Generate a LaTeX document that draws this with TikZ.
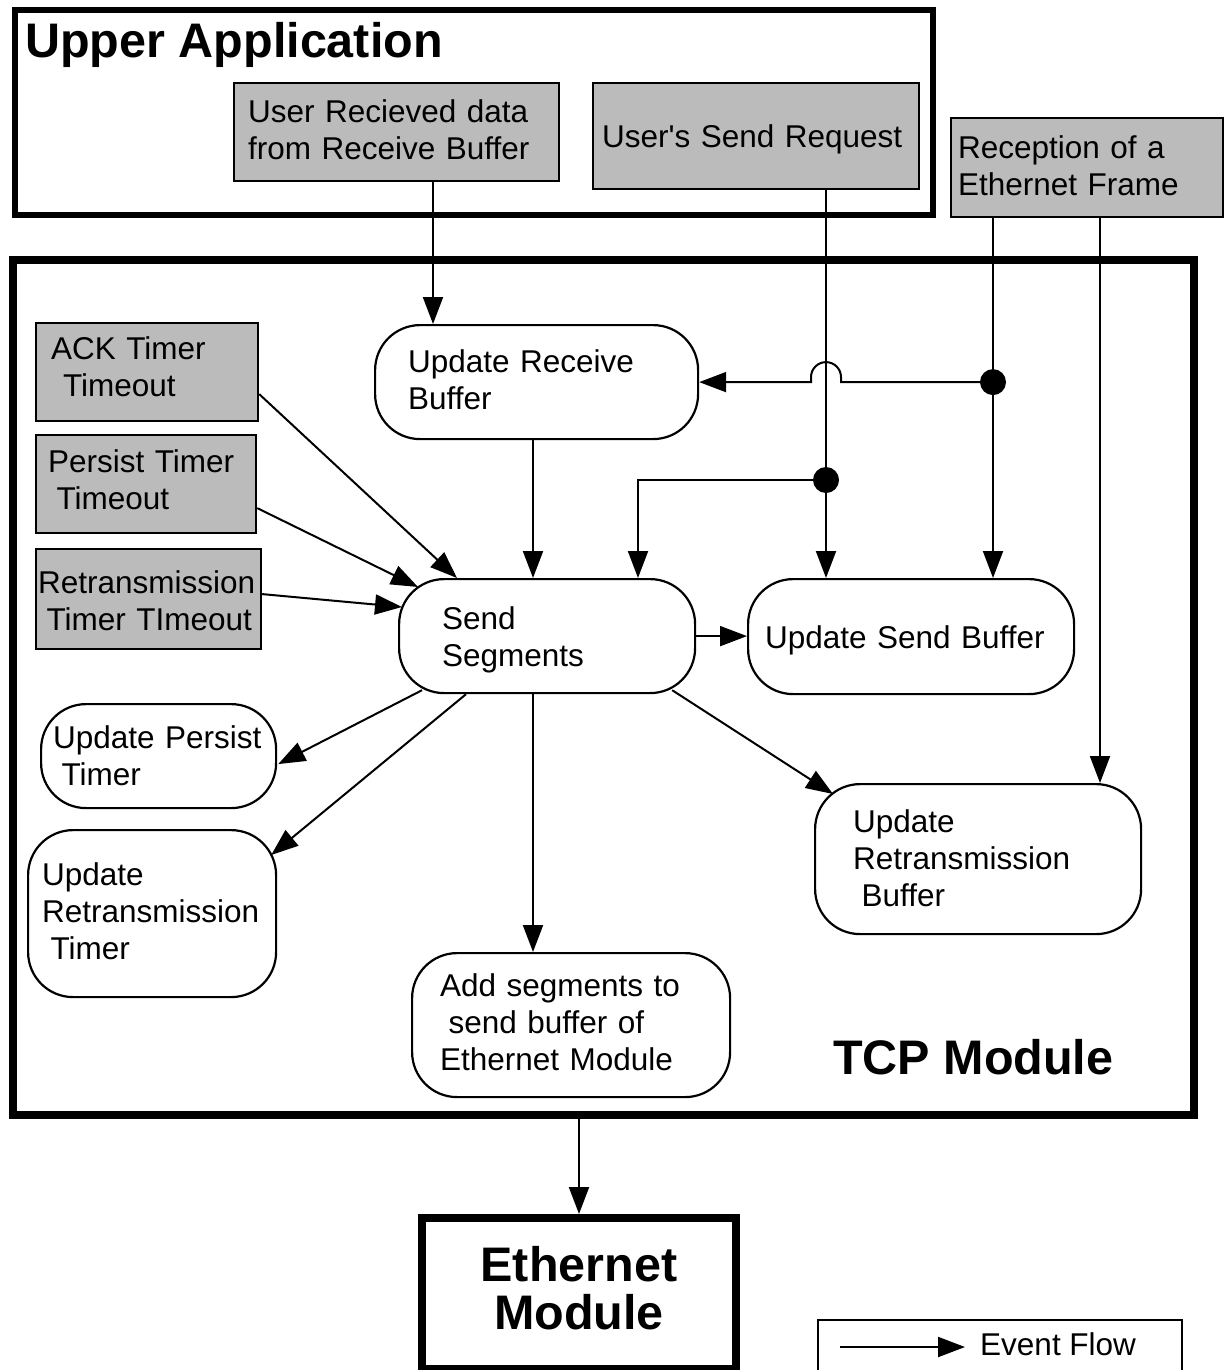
\documentclass[tikz,border=0pt]{standalone}
\usepackage{fontspec}
\setmainfont{Liberation Sans}
\usetikzlibrary{arrows.meta,calc}
\definecolor{evgrey}{RGB}{187,187,187}
\newcommand\nf{\fontsize{31.5}{37}\selectfont}
\newcommand\titlef{\fontsize{48.5}{48}\selectfont\bfseries}
\newcommand\ind{\hspace*{8.5pt}}
% extra depth under the last line, so the text block sits a little higher
\newcommand\dpt[1]{\rule[-#1pt]{0pt}{0pt}}
% a line whose descenders do not count for centring
\newcommand\nodp[1]{\raisebox{0pt}[\height][0pt]{#1}}
\tikzset{
  flow/.style={line width=2pt, -{Triangle[length=27pt,width=20pt]}},
  evt/.style={draw, line width=2.2pt, fill=evgrey, inner ysep=0pt, align=left, anchor=north west, font=\nf},
  proc/.style={draw, line width=2.2pt, rounded corners=45pt, inner ysep=0pt, align=left, anchor=north west, font=\nf},
  frame/.style={draw, inner sep=0pt, anchor=north west},
  junction/.style={circle, fill, inner sep=0pt, minimum size=26pt},
}
\begin{document}
\begin{tikzpicture}[x=1pt,y=-1pt]
\useasboundingbox (0,0) rectangle (1225,1370);

% module frames
\node[frame, line width=6pt, minimum width=918, minimum height=205] (upper) at (12,7) {};
\node[anchor=base west, font=\titlef, inner sep=0pt] (uptitle) at (25,58) {Upper Application};
\node[frame, line width=8pt, minimum width=1181, minimum height=855] (tcp) at (9,256) {};
\node[anchor=base west, font=\titlef, inner sep=0pt] (tcptitle) at (833,1074) {TCP Module};
\node[frame, line width=8pt, minimum width=314, minimum height=151] (eth) at (418,1214) {};
\node[font=\titlef, align=center, inner sep=0pt] (ethtitle) at ($(eth.center)+(0,-5)$) {Ethernet\\Module};

% external events
\node[evt, inner xsep=14pt, text width=297pt, minimum height=98pt] (urd) at (233,82) {User Recieved data\\from Receive Buffer\dpt{5}};
\node[evt, inner xsep=9pt, text width=308pt, minimum height=106pt] (usr) at (592,82) {\nodp{User\textquotesingle s Send Request}};
\node[evt, inner xsep=7pt, text width=258pt, minimum height=99pt] (rcp) at (950,117) {Reception of a\\Ethernet Frame\dpt{5}};

% timer events
\node[evt, inner xsep=15pt, text width=192pt, minimum height=98pt] (ack) at (35,322) {ACK Timer\\\hspace*{12pt}Timeout\dpt{11}};
\node[evt, inner xsep=12pt, text width=196pt, minimum height=98pt] (pst) at (35,434) {Persist Timer\\\ind Timeout\dpt{10}};
\node[evt, inner xsep=2pt, text width=221pt, minimum height=100pt] (rtx) at (35,548) {\rule{0pt}{27pt}Retransmission\\\ind Timer TImeout};

% processes
\node[proc, inner xsep=33pt, text width=257pt, minimum height=114pt] (urb) at (374,324) {Update Receive\\Buffer\dpt{6}};
\node[proc, inner xsep=43pt, text width=210pt, minimum height=114pt] (ss) at (398,578) {Send\\\nodp{Segments}};
\node[proc, inner xsep=17pt, text width=292pt, minimum height=115pt] (usb) at (747,578) {\nodp{Update Send Buffer}};
\node[proc, inner xsep=12pt, text width=211pt, minimum height=104pt] (upt) at (40,703) {Update Persist\\\ind Timer};
\node[proc, inner xsep=14pt, text width=220pt, minimum height=167pt] (urt) at (27,829) {Update\\Retransmission\\\ind Timer\dpt{6}};
\node[proc, inner xsep=28pt, text width=262pt, minimum height=144pt] (add) at (411,952) {Add segments to\\\ind send buffer of\\Ethernet Module\dpt{6}};
\node[proc, inner xsep=38pt, text width=250pt, minimum height=150pt] (urbf) at (814,783) {Update\\Retransmission\\\ind Buffer\dpt{3}};

% connector columns
\coordinate (colR) at (433,0);
\coordinate (colS) at (826,0);
\coordinate (colE1) at (993,0);
\coordinate (colE2) at (1100,0);
\coordinate (colM) at (533,0);
\coordinate (colQ) at (638,0);
\coordinate (rowJ2) at (0,480);

% event flows
\draw[flow] (urd.south -| colR) -- (urb.north -| colR);
\draw[flow] (usr.south -| colS) -- (usb.north -| colS);
\draw[flow] (rcp.south -| colE1) -- (usb.north -| colE1);
\draw[flow] (rcp.south -| colE2) -- (urbf.north -| colE2);
\node[junction] (j1) at (colE1 |- urb.east) {};
\node[junction] (j2) at (colS |- rowJ2) {};
\draw[flow] (j1.center) -- ($(j1 -| colS)+(15,0)$) -- ++(0,-5)
  arc[start angle=0,end angle=180,radius=15pt] -- ++(0,5) -- (urb.east);
\draw[flow] (j2.center) -- (j2 -| colQ) -- (ss.north -| colQ);
\draw[flow] (urb.south -| colM) -- (ss.north -| colM);
\draw[flow] (ss.east) -- (ss.east -| usb.west);
\draw[flow] ($(ack.east)+(0,22)$) -- ($(ss.north west)+(59,0)$);
\draw[flow] ($(pst.east)+(0,24)$) -- ($(ss.north west)+(20,9)$);
\draw[flow] ($(rtx.east)+(0,-5)$) -- ($(ss.north west)+(4,29)$);
\draw[flow] ($(ss.south west)+(24,-4)$) -- ($(upt.east)+(1,8)$);
\draw[flow] ($(ss.south west)+(68,0)$) -- ($(urt.north east)+(-6,26)$);
\draw[flow] (ss.south -| colM) -- (add.north -| colM);
\draw[flow] ($(ss.south east)+(-24,-4)$) -- ($(urbf.north west)+(19,11)$);
\draw[flow] (tcp.south -| eth.north) -- (eth.north);

% legend
\node[frame, line width=2pt, minimum width=364, minimum height=80] (legend) at (817,1319) {};
\coordinate (lgA) at (840,1347);
\coordinate (lgB) at (965,1347);
\draw[flow] (lgA) -- (lgB);
\node[anchor=base west, font=\nf, inner sep=0pt] (lgT) at (980,1355) {Event Flow};
\end{tikzpicture}
\end{document}
